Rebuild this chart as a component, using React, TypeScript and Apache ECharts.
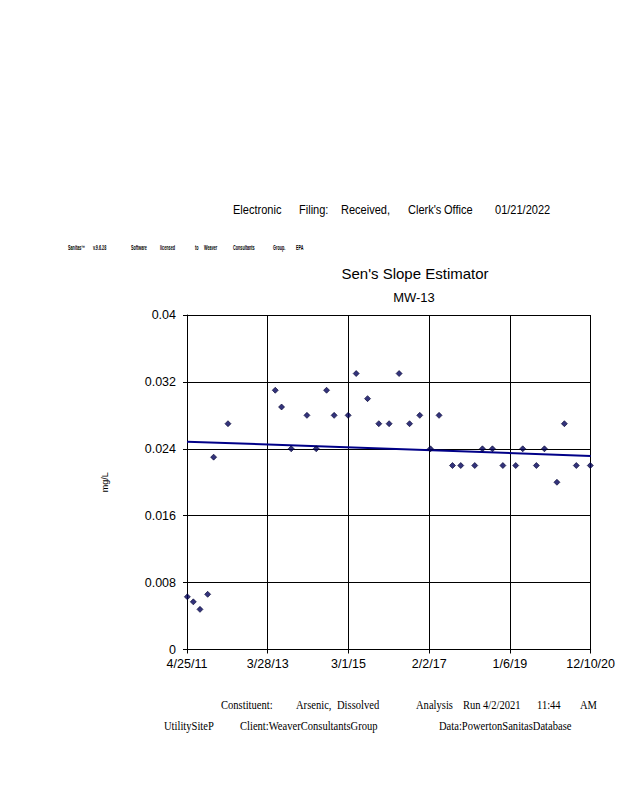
import React, { useEffect, useRef } from "react";
import * as echarts from "echarts";

const START = "2011-04-25";
const END = "2020-12-10";
const X_DIVISIONS = 5;

const sampleDates = [
  "2011-04-28", "2011-06-19", "2011-08-16", "2011-10-22", "2011-12-13", "2012-04-16",
  "2013-06-02", "2013-07-27", "2013-10-19", "2014-03-05", "2014-05-25", "2014-08-23",
  "2014-10-28", "2015-02-27", "2015-05-08", "2015-08-15", "2015-11-21", "2016-02-19",
  "2016-05-16", "2016-08-15", "2016-11-12", "2017-02-13", "2017-04-29", "2017-08-24",
  "2017-11-04", "2018-03-06", "2018-05-12", "2018-08-07", "2018-11-06", "2019-02-26",
  "2019-04-28", "2019-08-25", "2019-11-03", "2020-02-20", "2020-04-25", "2020-08-07",
  "2020-12-07",
];

const arsenicValues = [
  0.0063, 0.0057, 0.0048, 0.0066, 0.023, 0.027,
  0.031, 0.029, 0.024, 0.028, 0.024, 0.031,
  0.028, 0.028, 0.033, 0.030, 0.027, 0.027,
  0.033, 0.027, 0.028, 0.024, 0.028, 0.022,
  0.022, 0.022, 0.024, 0.024, 0.022, 0.022,
  0.024, 0.022, 0.024, 0.020, 0.027, 0.022,
  0.022,
];

const slopeLineDates = [START, END];
const slopeLineValues = [0.02485, 0.02315];

const yMin = 0;
const yMax = 0.04;
const yInterval = 0.008;

const titleText = "Sen's Slope Estimator";
const subtitleText = "MW-13";
const yAxisName = "mg/L";

const headerWords = ["Electronic", "Filing:", "Received,", "Clerk's", "Office", "01/21/2022"];
const licenseWords = ["Sanitas\u2122", "v.9.6.28", "Software", "licensed", "to", "Weaver", "Consultants", "Group.", "EPA"];
const footerLine1 = ["Constituent:", "Arsenic,", "Dissolved", "Analysis", "Run", "4/2/2021", "11:44", "AM"];
const footerLine2 = ["UtilitySiteP", "Client:WeaverConsultantsGroup", "Data:PowertonSanitasDatabase"];

const DAY = 86400000;
const toMs = (s: string) => {
  const [y, m, d] = s.split("-").map(Number);
  return Date.UTC(y, m - 1, d);
};
const startMs = toMs(START);
const dayOffset = (s: string) => Math.round((toMs(s) - startMs) / DAY);
const totalDays = dayOffset(END);

const fmtDay = (v: number) => {
  const d = new Date(startMs + Math.floor(v + 1e-6) * DAY);
  const yy = String(d.getUTCFullYear() % 100).padStart(2, "0");
  return `${d.getUTCMonth() + 1}/${d.getUTCDate()}/${yy}`;
};

const SANS = "'Liberation Sans', Arial, sans-serif";
const SERIF = "'Liberation Serif', 'Times New Roman', serif";

export default function App() {
  const ref = useRef<HTMLDivElement>(null);

  useEffect(() => {
    if (!ref.current) return;
    const chart = echarts.init(ref.current, undefined, { renderer: "svg" });

    const headerX = [233, 299, 341, 408, 444, 495];
    const licenseX = [68, 93, 131, 160, 195, 204, 233, 273, 296];
    const foot1X = [221, 296, 337, 416, 463, 483, 537, 580];
    const foot2X = [164, 240, 439];

    const texts: any[] = [];
    const addWords = (
      words: string[], xs: number[], y: number, size: number, family: string, sx: number, weight = "normal"
    ) =>
      words.forEach((w, i) =>
        texts.push({
          type: "text", x: xs[i], y, scaleX: sx, scaleY: 1,
          style: {
            text: w, fontSize: size, fontFamily: family, fontWeight: weight,
            fill: "#000", align: "left", verticalAlign: "middle",
          },
        })
      );
    addWords(headerWords, headerX, 210, 13, SANS, 0.85);
    addWords(licenseWords, licenseX, 248, 6.5, SANS, 0.58, "bold");
    addWords(footerLine1, foot1X, 705, 12, SERIF, 0.88);
    addWords(footerLine2, foot2X, 726, 12, SERIF, 0.88);

    texts.push({
      type: "text", x: 415, y: 273,
      style: { text: titleText, fontSize: 15, fontFamily: SANS, fill: "#000", align: "center", verticalAlign: "middle" },
    });
    texts.push({
      type: "text", x: 414, y: 297,
      style: { text: subtitleText, fontSize: 13, fontFamily: SANS, fill: "#000", align: "center", verticalAlign: "middle" },
    });

    chart.setOption({
      animation: false,
      backgroundColor: "#fff",
      grid: { left: 187, top: 315, width: 404, height: 334.5, containLabel: false },
      xAxis: {
        type: "value",
        min: 0,
        max: totalDays,
        interval: totalDays / X_DIVISIONS,
        axisLine: { show: true, lineStyle: { color: "#000", width: 1 } },
        axisTick: { show: true, inside: false, length: 4, lineStyle: { color: "#000" } },
        splitLine: { show: true, lineStyle: { color: "#000", width: 1 } },
        axisLabel: {
          color: "#000", fontSize: 12.5, fontFamily: SANS, margin: 8,
          formatter: (v: number) => fmtDay(v),
          showMinLabel: true, showMaxLabel: true,
        },
      },
      yAxis: {
        type: "value",
        min: yMin,
        max: yMax,
        interval: yInterval,
        name: yAxisName,
        nameLocation: "middle",
        nameRotate: 90,
        nameGap: 78,
        nameTextStyle: { color: "#000", fontSize: 9, fontFamily: SANS },
        axisLine: { show: true, lineStyle: { color: "#000", width: 1 } },
        axisTick: { show: true, inside: false, length: 4, lineStyle: { color: "#000" } },
        splitLine: { show: true, lineStyle: { color: "#000", width: 1 } },
        axisLabel: {
          color: "#000", fontSize: 12.5, fontFamily: SANS, margin: 11,
          formatter: (v: number) => String(parseFloat(v.toFixed(4))),
        },
      },
      series: [
        {
          type: "line",
          data: slopeLineDates.map((d, i) => [dayOffset(d), slopeLineValues[i]]),
          symbol: "none",
          lineStyle: { color: "#000088", width: 2 },
          z: 2,
        },
        {
          type: "scatter",
          data: sampleDates.map((d, i) => [dayOffset(d), arsenicValues[i]]),
          symbol: "diamond",
          symbolSize: 6,
          itemStyle: { color: "#00005a", borderColor: "#000030", borderWidth: 0.8 },
          z: 3,
        },
      ],
      graphic: texts,
    });

    return () => chart.dispose();
  }, []);

  return (
    <div
      ref={ref}
      style={{ position: "fixed", left: 0, top: 0, width: 618, height: 800, background: "#fff" }}
    />
  );
}
